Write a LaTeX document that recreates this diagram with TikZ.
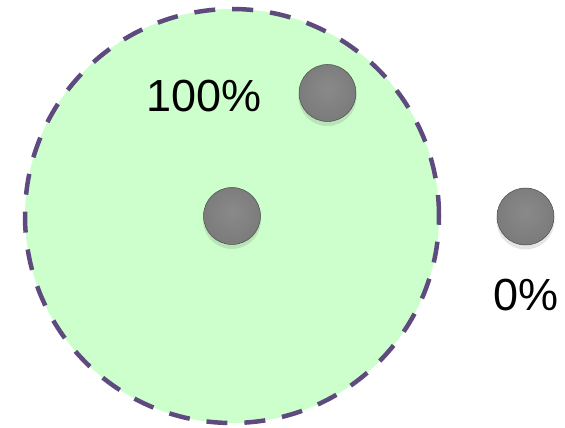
\documentclass[tikz,border=0pt]{standalone}
\usepackage{fontspec}
\setmainfont{Liberation Sans}
\usepackage{xcolor}
\definecolor{zonegreen}{HTML}{CCFFCC}
\definecolor{rimpurple}{HTML}{5E4A7E}
\pgfdeclareradialshading{marble}{\pgfpoint{0bp}{4bp}}{%
  color(0bp)=(gray!92!white);color(30bp)=(gray!95!black);color(42bp)=(gray!85!black);color(47bp)=(gray!70!black);color(50bp)=(gray!60!black)}
\tikzset{
  ball/.style={circle, minimum size=57pt, inner sep=0pt, shading=marble, draw=gray!60!black, line width=0.5pt},
  pct/.style={font=\fontsize{45}{50}\selectfont, inner sep=0pt, text=black}
}

\begin{document}
\begin{tikzpicture}[x=1pt,y=1pt]
\useasboundingbox (0,0) rectangle (565,428);
\draw[rimpurple, fill=zonegreen, line width=4.5pt, dash pattern=on 21pt off 17pt] (232,212) circle (207);
\fill[black, opacity=0.10] (327.5,331) circle (29); \node[ball] (top) at (327.5,335) {};
\fill[black, opacity=0.10] (232,208) circle (29); \node[ball] (mid) at (232,212) {};
\fill[black, opacity=0.10] (525.5,207.5) circle (29); \node[ball] (out) at (525.5,211.5) {};
\node[pct] (inlbl) at (204,332) {100\%};
\node[pct] (outlbl) at (526,133) {0\%};
\end{tikzpicture}
\end{document}
